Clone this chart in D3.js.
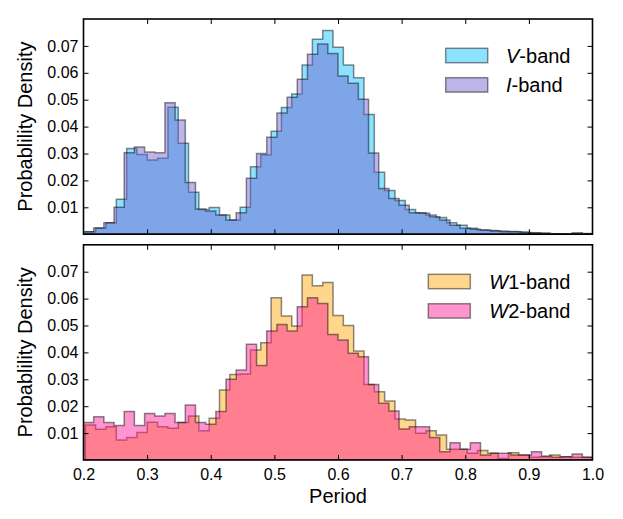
<!DOCTYPE html>
<html><head><meta charset="utf-8">
<script src="https://cdn.jsdelivr.net/npm/d3@7"></script>
<style>
body{margin:0;background:#fff}
svg{display:block}
text{font-family:"Liberation Sans",Arial,Helvetica,sans-serif;fill:#000}
</style>
</head><body>
<svg id="chart" width="623" height="519"></svg>
<script>
// ---------------- data ----------------
const periodTicks = [0.2,0.3,0.4,0.5,0.6,0.7,0.8,0.9,1.0];
const densityTicks = [0.01,0.02,0.03,0.04,0.05,0.06,0.07];
const periodRange = [0.2,1.0];
const densityRange = [0,0.08];

// bin edges (period): first edge and bin width
const binStartA = 0.2,    binWidthA = 0.016;    // I-band, W2-band
const binStartB = 0.2029, binWidthB = 0.01622;  // V-band, W1-band

const vBand = [0.0009,0.0023,0.0043,0.0130,0.0319,0.0296,0.0276,0.0282,0.0472,0.0338,
               0.0156,0.0092,0.0099,0.0071,0.0053,0.0100,0.0251,0.0295,0.0383,0.0471,
               0.0521,0.0629,0.0725,0.0757,0.0695,0.0629,0.0582,0.0445,0.0230,0.0162,
               0.0125,0.0092,0.0080,0.0071,0.0062,0.0043,0.0033,0.0022,0.0016,0.0014,
               0.0012,0.0010,0.0008,0.0005,0.0004,0.0002,0.0002,0.0002,0.0003,0.0001];
const iBand = [0.0009,0.0023,0.0043,0.0100,0.0303,0.0324,0.0306,0.0303,0.0489,0.0425,
               0.0192,0.0094,0.0086,0.0071,0.0053,0.0080,0.0208,0.0300,0.0360,0.0451,
               0.0509,0.0576,0.0669,0.0707,0.0672,0.0588,0.0561,0.0502,0.0302,0.0170,
               0.0133,0.0108,0.0080,0.0078,0.0065,0.0053,0.0033,0.0022,0.0018,0.0016,
               0.0012,0.0009,0.0009,0.0006,0.0004,0.0003,0.0002,0.0001,0.0005,0.0002];
const w1Band = [0.0130,0.0114,0.0124,0.0074,0.0084,0.0102,0.0140,0.0124,0.0118,0.0139,
                0.0164,0.0109,0.0155,0.0260,0.0318,0.0320,0.0409,0.0436,0.0603,0.0535,
                0.0498,0.0688,0.0648,0.0660,0.0537,0.0500,0.0405,0.0281,0.0254,0.0219,
                0.0152,0.0149,0.0099,0.0109,0.0093,0.0040,0.0040,0.0025,0.0035,0.0025,
                0.0006,0.0027,0.0019,0.0010,0.0012,0.0019,0.0012,0.0010,0.0010,0.0008];
const w2Band = [0.0139,0.0161,0.0139,0.0128,0.0180,0.0128,0.0173,0.0164,0.0173,0.0139,
                0.0204,0.0139,0.0133,0.0180,0.0300,0.0335,0.0430,0.0351,0.0480,0.0504,
                0.0480,0.0570,0.0603,0.0582,0.0467,0.0446,0.0397,0.0384,0.0281,0.0211,
                0.0182,0.0115,0.0124,0.0124,0.0084,0.0031,0.0064,0.0040,0.0064,0.0019,
                0.0025,0.0025,0.0019,0.0019,0.0031,0.0015,0.0010,0.0012,0.0022,0.0010];

const yLabel = "Probablility Density";
const xLabel = "Period";

// ---------------- layout ----------------
const svg = d3.select("#chart");
const left = 83.5, right = 592.5;
const x = d3.scaleLinear().domain(periodRange).range([left, right]);

const panels = [
  {top:19, bottom:234.2, series:[
     {name:"V", suffix:"-band", vals:vBand, start:binStartB, width:binWidthB, color:"rgb(0,191,255)"},
     {name:"I", suffix:"-band", vals:iBand, start:binStartA, width:binWidthA, color:"rgb(106,90,205)"}],
   legend:{px:445.7, tx:506, y:48.3}, showX:false},
  {top:244.8, bottom:460, series:[
     {name:"W", suffix:"1-band", vals:w1Band, start:binStartB, width:binWidthB, color:"rgb(255,165,0)"},
     {name:"W", suffix:"2-band", vals:w2Band, start:binStartA, width:binWidthA, color:"rgb(255,20,147)"}],
   legend:{px:428.3, tx:489.3, y:274.3}, showX:true}
];
const alpha = 0.45;

panels.forEach((p, pi) => {
  const y = d3.scaleLinear().domain(densityRange).range([p.bottom, p.top]);
  const g = svg.append("g");
  const clipId = "clip" + pi;
  svg.append("clipPath").attr("id", clipId).append("rect")
    .attr("x", left).attr("y", p.top).attr("width", right-left).attr("height", p.bottom-p.top);

  const area = d3.area().x(d => x(d[0])).y0(y(0)).y1(d => y(d[1])).curve(d3.curveStepAfter);
  const hg = g.append("g").attr("clip-path", `url(#${clipId})`);
  p.series.forEach(s => {
    const pts = s.vals.map((v,k) => [s.start + k*s.width, v]);
    pts.push([s.start + s.vals.length*s.width, s.vals[s.vals.length-1]]);
    hg.append("path").attr("d", area(pts) + "Z")
      .attr("fill", s.color).attr("fill-opacity", alpha)
      .attr("stroke", "#000").attr("stroke-opacity", alpha).attr("stroke-width", 1.5)
      .attr("stroke-linejoin", "miter");
  });

  // axes (ticks inward on all four sides)
  const styleAxis = (ax) => {
    ax.select(".domain").remove();
    ax.selectAll(".tick line").attr("stroke", "#000").attr("stroke-width", 1);
    ax.selectAll("text").style("font-size", "16px")
      .style("font-family", '"Liberation Sans",Arial,Helvetica,sans-serif').attr("fill", "#000");
  };
  const inner = periodTicks.slice(1, -1);
  g.append("g").attr("transform", `translate(0,${p.top})`)
    .call(d3.axisTop(x).tickValues(inner).tickSize(-5).tickFormat(""))
    .call(styleAxis);
  const bx = g.append("g").attr("transform", `translate(0,${p.bottom})`)
    .call(d3.axisBottom(x).tickValues(p.showX ? periodTicks : inner).tickSize(-5).tickPadding(8.6)
      .tickFormat(p.showX ? d3.format(".1f") : ""))
    .call(styleAxis);
  if (p.showX) {
    bx.selectAll(".tick").filter(d => d === 0.2 || d === 1.0).select("line").remove();
  }
  g.append("g").attr("transform", `translate(${left},0)`)
    .call(d3.axisLeft(y).tickValues(densityTicks).tickSize(-5).tickPadding(5).tickFormat(d3.format(".2f")))
    .call(styleAxis);
  g.append("g").attr("transform", `translate(${right},0)`)
    .call(d3.axisRight(y).tickValues(densityTicks).tickSize(-5).tickFormat(""))
    .call(styleAxis);

  // frame
  g.append("rect").attr("x", left).attr("y", p.top).attr("width", right-left).attr("height", p.bottom-p.top)
    .attr("fill", "none").attr("stroke", "#000").attr("stroke-width", 1.6);

  // y label
  g.append("text").attr("transform", `translate(32,${(p.top+p.bottom)/2}) rotate(-90)`)
    .attr("text-anchor", "middle").style("font-size", "20px").text(yLabel);

  // legend
  p.series.forEach((s, i) => {
    const ly = p.legend.y + i*29.4;
    g.append("rect").attr("x", p.legend.px).attr("y", ly).attr("width", 42).attr("height", 14.4)
      .attr("fill", s.color).attr("fill-opacity", alpha)
      .attr("stroke", "#000").attr("stroke-opacity", alpha).attr("stroke-width", 1.5);
    const t = g.append("text").attr("x", p.legend.tx).attr("y", ly + 14.4).style("font-size", "20px");
    t.append("tspan").style("font-style", "italic").text(s.name);
    t.append("tspan").text(s.suffix);
  });
});

// x label
svg.append("text").attr("x", (left+right)/2).attr("y", 503).attr("text-anchor", "middle")
  .style("font-size", "20px").text(xLabel);
</script>
</body></html>
